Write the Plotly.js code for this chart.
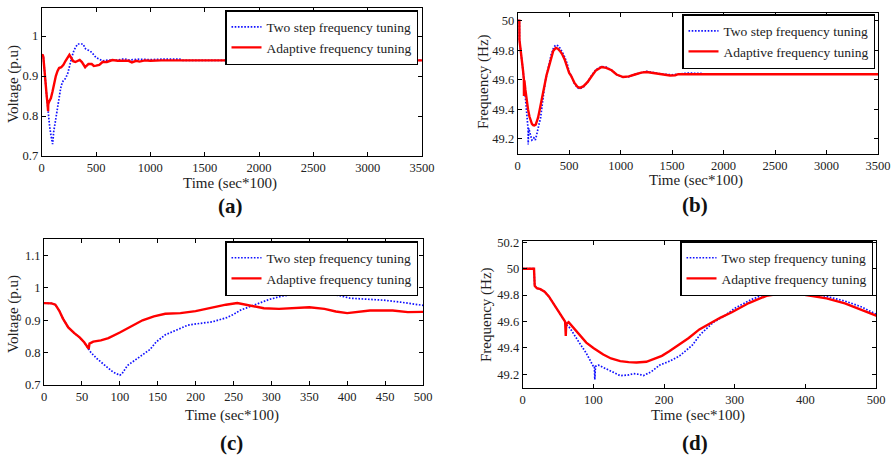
<!DOCTYPE html>
<html>
<head>
<meta charset="utf-8">
<script src="https://cdn.plot.ly/plotly-3.0.1.min.js"></script>
<style>
  html, body { margin: 0; padding: 0; background: #fff; }
  #chart { width: 893px; height: 455px; }
</style>
</head>
<body>
<div id="chart"></div>
<script>
// ---------- DATA ----------
const seriesNames = ["Two step frequency tuning", "Adaptive frequency tuning"];

// Voltage (p.u) vs time (sec*100)
const voltTimeTwoStep = [0,10,15,20,25,32,40,47,53,59,62,70,83,91,100,103,110,125,140,148,160,175,190,205,222,241,250,259,276,298,315,330,380,390,404,425,448,470,500,530,560,620,700,760,800,900,1000,1100,1270,1300,3500];
const voltTwoStep     = [0.953,0.952,0.948,0.93,0.905,0.878,0.86,0.847,0.832,0.812,0.80,0.781,0.755,0.74,0.73,0.735,0.76,0.785,0.81,0.833,0.855,0.87,0.885,0.89,0.895,0.908,0.918,0.931,0.946,0.965,0.975,0.98,0.98,0.976,0.968,0.965,0.962,0.956,0.946,0.942,0.938,0.94,0.94,0.943,0.94,0.942,0.941,0.942,0.942,0.939,0.939];
const voltTimeAdaptive = [0,10,15,20,25,32,40,47,53,59,60,65,75,85,100,115,130,145,160,180,200,220,240,255,270,290,310,330,350,370,385,400,410,430,460,480,500,530,560,600,650,700,800,830,870,900,950,1000,1100,3500];
const voltAdaptive     = [0.953,0.952,0.948,0.93,0.905,0.878,0.86,0.847,0.832,0.812,0.828,0.834,0.838,0.845,0.862,0.882,0.9,0.912,0.92,0.922,0.928,0.938,0.948,0.953,0.946,0.937,0.935,0.938,0.94,0.935,0.927,0.922,0.925,0.93,0.93,0.925,0.926,0.928,0.935,0.935,0.94,0.938,0.938,0.934,0.938,0.936,0.939,0.938,0.939,0.939];

// Frequency (Hz) vs time (sec*100)
const freqTimeTwoStep = [0,16,17,20,25,31,37,43,48,53,56,59,60,61,63,67,80,90,100,101.5,102,103,107,115,125,138,150,157,165,171,182,194,208,222,240,251,270,285,300,325,350,370,390,410,430,456,480,500,520,550,580,605,640,680,718,760,815,860,912,960,1025,1080,1139,1200,1252,1320,1400,1500,1600,1650,1780,1800,3500];
const freqTwoStep     = [50.0,50.0,49.87,49.852,49.845,49.826,49.79,49.742,49.70,49.654,49.63,49.605,49.60,49.59,49.57,49.55,49.44,49.36,49.26,49.26,49.16,49.26,49.27,49.25,49.22,49.19,49.195,49.205,49.20,49.19,49.22,49.27,49.30,49.34,49.42,49.50,49.595,49.64,49.70,49.77,49.82,49.835,49.83,49.815,49.79,49.755,49.71,49.655,49.625,49.575,49.545,49.538,49.552,49.585,49.628,49.668,49.69,49.685,49.665,49.635,49.615,49.62,49.636,49.65,49.657,49.648,49.638,49.633,49.64,49.645,49.642,49.637,49.637];
const freqTimeAdaptive = [0,16,17,20,25,31,37,43,48,53,56,59,60,61,61.5,65,75,90,100,114,125,138,150,161,175,185,197,208,220,235,250,267,280,296,320,345,370,390,410,430,456,480,500,520,550,580,605,640,680,718,760,815,860,912,960,1025,1080,1139,1200,1252,1320,1400,1480,1530,1560,3500];
const freqAdaptive     = [50.0,50.0,49.87,49.852,49.845,49.826,49.79,49.742,49.70,49.654,49.63,49.605,49.60,49.49,49.58,49.595,49.53,49.44,49.40,49.35,49.32,49.30,49.292,49.29,49.295,49.313,49.34,49.376,49.42,49.475,49.54,49.59,49.63,49.67,49.74,49.795,49.815,49.81,49.795,49.775,49.737,49.69,49.645,49.625,49.58,49.552,49.544,49.556,49.585,49.623,49.663,49.686,49.68,49.664,49.635,49.618,49.622,49.635,49.648,49.652,49.645,49.634,49.628,49.63,49.637,49.637];

const panelLabels = ["(a)", "(b)", "(c)", "(d)"];
const xTitle = "Time (sec*100)";
const yTitles = ["Voltage (p.u)", "Frequency (Hz)", "Voltage (p.u)", "Frequency (Hz)"];

// ---------- STYLE / LAYOUT ----------
const FONT = "Liberation Serif, Times New Roman, serif";
const W = 893, H = 455;
const px = v => v / W;
const py = v => 1 - v / H;

function axis(domain, range, dtick, tick0, anchor) {
  return {
    domain: domain, range: range, dtick: dtick, tick0: tick0, anchor: anchor,
    showline: true, mirror: 'ticks', linecolor: '#000', linewidth: 1,
    ticks: 'inside', ticklen: 4, tickwidth: 1, tickcolor: '#000',
    showgrid: false, zeroline: false, fixedrange: true,
    tickfont: { family: FONT, size: 12.5, color: '#222' }
  };
}

const panels = [
  { xs: 'x',  ys: 'y',  leg: 'legend',  t1: voltTimeTwoStep, y1: voltTwoStep, t2: voltTimeAdaptive, y2: voltAdaptive },
  { xs: 'x2', ys: 'y2', leg: 'legend2', t1: freqTimeTwoStep, y1: freqTwoStep, t2: freqTimeAdaptive, y2: freqAdaptive },
  { xs: 'x3', ys: 'y3', leg: 'legend3', t1: voltTimeTwoStep, y1: voltTwoStep, t2: voltTimeAdaptive, y2: voltAdaptive },
  { xs: 'x4', ys: 'y4', leg: 'legend4', t1: freqTimeTwoStep, y1: freqTwoStep, t2: freqTimeAdaptive, y2: freqAdaptive }
];

const traces = [];
panels.forEach(p => {
  traces.push({
    x: p.t1, y: p.y1, xaxis: p.xs, yaxis: p.ys, legend: p.leg,
    type: 'scatter', mode: 'lines', name: seriesNames[0],
    line: { color: '#1010ff', width: 1.7, dash: '1.6px,1.6px' }
  });
  traces.push({
    x: p.t2, y: p.y2, xaxis: p.xs, yaxis: p.ys, legend: p.leg,
    type: 'scatter', mode: 'lines', name: seriesNames[1],
    line: { color: '#ff0000', width: 2.4 }
  });
});

function legendAt(rightPx, topPx) {
  return {
    x: px(rightPx), y: py(topPx), xanchor: 'right', yanchor: 'top',
    bgcolor: '#fff', bordercolor: '#000', borderwidth: 1.5,
    font: { family: FONT, size: 13.5, color: '#222' },
    tracegroupgap: 0, itemwidth: 30
  };
}

// plot-area pixel boxes [left, right, top, bottom]
const boxes = [
  [41.7, 422, 8, 156],
  [517.7, 878, 12.7, 154],
  [44, 423, 239.3, 385],
  [522.7, 876, 241, 388.3]
];
const dom = b => ({ x: [px(b[0]), px(b[1])], y: [py(b[3]), py(b[2])] });

const layout = {
  width: W, height: H,
  margin: { l: 0, r: 0, t: 0, b: 0 },
  paper_bgcolor: '#fff', plot_bgcolor: '#fff',
  font: { family: FONT, color: '#222' },
  xaxis:  axis(dom(boxes[0]).x, [0, 3500], 500, 0, 'y'),
  yaxis:  axis(dom(boxes[0]).y, [0.7, 1.07], 0.1, 0.7, 'x'),
  xaxis2: axis(dom(boxes[1]).x, [0, 3500], 500, 0, 'y2'),
  yaxis2: axis(dom(boxes[1]).y, [49.096, 50.054], 0.2, 49.2, 'x2'),
  xaxis3: axis(dom(boxes[2]).x, [0, 500], 50, 0, 'y3'),
  yaxis3: axis(dom(boxes[2]).y, [0.7, 1.15], 0.1, 0.7, 'x3'),
  xaxis4: axis(dom(boxes[3]).x, [0, 500], 100, 0, 'y4'),
  yaxis4: axis(dom(boxes[3]).y, [49.094, 50.21], 0.2, 49.2, 'x4'),
  legend:  legendAt(418, 10),
  legend2: legendAt(875, 14),
  legend3: legendAt(418, 241),
  legend4: legendAt(873, 241),
  annotations: []
};

// axis titles and panel labels
const xTitlePos = [[230, 183], [696, 181], [232, 415], [698, 415]];
const yTitlePos = [[13, 84], [483, 82], [13, 314], [486, 314]];
const labelPos  = [[230, 206], [695, 205], [231, 443], [695, 443]];
for (let i = 0; i < 4; i++) {
  layout.annotations.push({
    text: xTitle, xref: 'paper', yref: 'paper',
    x: px(xTitlePos[i][0]), y: py(xTitlePos[i][1]),
    xanchor: 'center', yanchor: 'middle', showarrow: false,
    font: { family: FONT, size: 15, color: '#222' }
  });
  layout.annotations.push({
    text: yTitles[i], xref: 'paper', yref: 'paper', textangle: -90,
    x: px(yTitlePos[i][0]), y: py(yTitlePos[i][1]),
    xanchor: 'center', yanchor: 'middle', showarrow: false,
    font: { family: FONT, size: 15, color: '#222' }
  });
  layout.annotations.push({
    text: '<b>' + panelLabels[i] + '</b>', xref: 'paper', yref: 'paper',
    x: px(labelPos[i][0]), y: py(labelPos[i][1]),
    xanchor: 'center', yanchor: 'middle', showarrow: false,
    font: { family: FONT, size: 21, color: '#111' }
  });
}

Plotly.newPlot('chart', traces, layout, { staticPlot: true, displayModeBar: false });
</script>
</body>
</html>
